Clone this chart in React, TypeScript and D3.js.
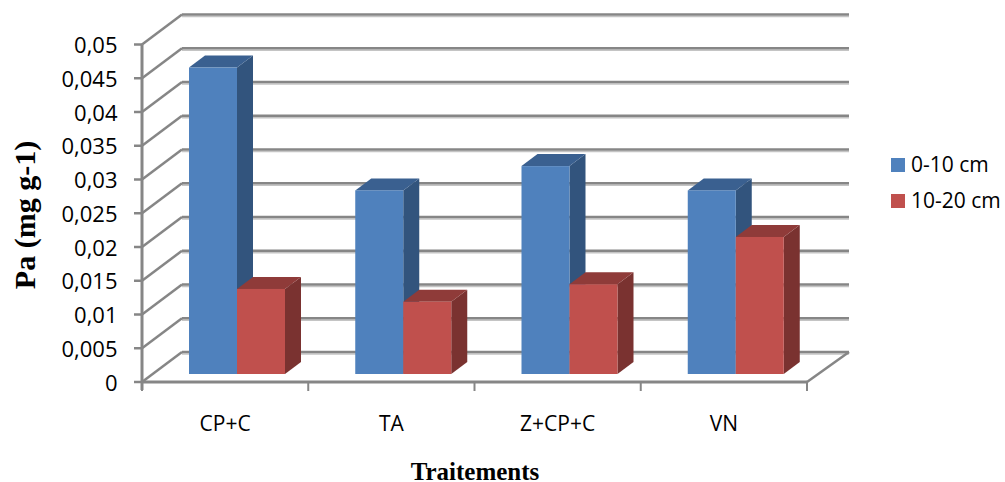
import React from "react";
import * as d3 from "d3";

const categories = ["CP+C", "TA", "Z+CP+C", "VN"];
const seriesNames = ["0-10 cm", "10-20 cm"];
const values0to10 = [0.0454, 0.0272, 0.0308, 0.0272];
const values10to20 = [0.0126, 0.0107, 0.0133, 0.0203];
const yTickValues = [0, 0.005, 0.01, 0.015, 0.02, 0.025, 0.03, 0.035, 0.04, 0.045, 0.05];
const yTickLabels = ["0", "0,005", "0,01", "0,015", "0,02", "0,025", "0,03", "0,035", "0,04", "0,045", "0,05"];
const yTitle = "Pa (mg g-1)";
const xTitle = "Traitements";

const W = 1005, H = 482;
const FONT = "'Open Sans', 'Noto Sans', sans-serif";
const GRID = "#868686";
const GRID_SHADOW = "#c4c4c4";
const DEPTH_X = 40, DEPTH_Y = -30;
const BAR_DX = 16, BAR_DY = -12;
const palette = [
  { front: "#4F81BD", top: "#3A6090", side: "#32547D" },
  { front: "#C0504D", top: "#8F3B39", side: "#7A3230" },
];

const x = d3.scaleBand<string>().domain(categories).range([142, 807]);
const y = d3.scaleLinear().domain([0, 0.05]).range([382, 44.5]);
const BAR_W = 48;
const BASE_SHIFT_Y = -8;
const GROUP_INSET = 47;

function Bar({ x0, v, c }: { x0: number; v: number; c: typeof palette[0] }) {
  const yb = y(0) + BASE_SHIFT_Y;
  const yt = y(v) + BASE_SHIFT_Y + 0;
  const x1 = x0 + BAR_W;
  return (
    <g>
      <polygon points={`${x1},${yt} ${x1 + BAR_DX},${yt + BAR_DY} ${x1 + BAR_DX},${yb + BAR_DY} ${x1},${yb}`} fill={c.side} />
      <polygon points={`${x0},${yt} ${x0 + BAR_DX},${yt + BAR_DY} ${x1 + BAR_DX},${yt + BAR_DY} ${x1},${yt}`} fill={c.top} />
      <rect x={x0} y={yt} width={BAR_W} height={yb - yt} fill={c.front} />
    </g>
  );
}

export default function App() {
  const [xl, xr] = x.range();
  return (
    <svg width={W} height={H} style={{ position: "absolute", left: 0, top: 0, background: "#fff" }}>
      {yTickValues.map((t) => (
        <g key={t}>
          <line x1={xl + DEPTH_X} x2={xr + DEPTH_X + 2} y1={y(t) + DEPTH_Y + 2} y2={y(t) + DEPTH_Y + 2} stroke={GRID_SHADOW} strokeWidth={1.5} />
          <line x1={xl + DEPTH_X} x2={xr + DEPTH_X + 2} y1={y(t) + DEPTH_Y} y2={y(t) + DEPTH_Y} stroke={GRID} strokeWidth={2.5} />
          <line x1={xl} x2={xl + DEPTH_X} y1={y(t)} y2={y(t) + DEPTH_Y} stroke={GRID} strokeWidth={2.5} />
          <line x1={xl - 8} x2={xl} y1={y(t)} y2={y(t)} stroke={GRID} strokeWidth={2.5} />
          <text x={117.5} y={y(t) + 8.5} textAnchor="end" fontFamily={FONT} fontSize={22} fill="#000">
            {yTickLabels[yTickValues.indexOf(t)]}
          </text>
        </g>
      ))}
      <line x1={xr} x2={xr + DEPTH_X + 2} y1={y(0)} y2={y(0) + DEPTH_Y} stroke={GRID} strokeWidth={2.5} />
      <line x1={xl} x2={xl} y1={y(0.05)} y2={y(0) + 8} stroke={GRID} strokeWidth={3} />
      <line x1={xl - 1} x2={xr} y1={y(0)} y2={y(0)} stroke={GRID} strokeWidth={3} />
      {[...categories.map((c) => x(c)!), xr].map((tx) => (
        <line key={tx} x1={tx} x2={tx} y1={y(0)} y2={y(0) + 9} stroke={GRID} strokeWidth={2} />
      ))}
      {categories.map((c, i) => {
        const x0 = x(c)! + GROUP_INSET;
        return (
          <g key={c}>
            <Bar x0={x0} v={values0to10[i]} c={palette[0]} />
            <Bar x0={x0 + BAR_W} v={values10to20[i]} c={palette[1]} />
            <text x={x(c)! + x.bandwidth() / 2} y={431} textAnchor="middle" fontFamily={FONT} fontSize={21} fill="#000">
              {c}
            </text>
          </g>
        );
      })}
      {seriesNames.map((s, i) => (
        <g key={s}>
          <rect x={891} y={158 + i * 36} width={14} height={14} fill={palette[i].front} />
          <text x={911} y={172 + i * 35.5} fontFamily={FONT} fontSize={21} fill="#000">
            {s}
          </text>
        </g>
      ))}
      <text
        transform="translate(35,215) rotate(-90)"
        textAnchor="middle"
        fontFamily="'Liberation Serif', serif"
        fontWeight="bold"
        fontSize={30}
        fill="#000"
      >
        {yTitle}
      </text>
      <text x={475} y={480} textAnchor="middle" fontFamily="'Liberation Serif', serif" fontWeight="bold" fontSize={25} fill="#000">
        {xTitle}
      </text>
    </svg>
  );
}
